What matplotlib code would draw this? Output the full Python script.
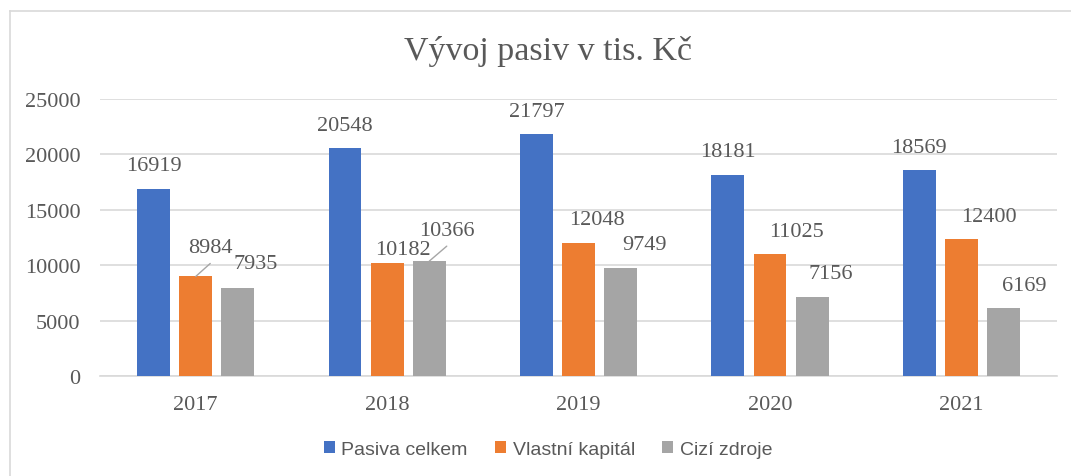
import matplotlib.pyplot as plt
import numpy as np
from matplotlib.lines import Line2D

# Data
roky = ["2017", "2018", "2019", "2020", "2021"]
pasiva_celkem = [16919, 20548, 21797, 18181, 18569]
vlastni_kapital = [8984, 10182, 12048, 11025, 12400]
cizi_zdroje = [7935, 10366, 9749, 7156, 6169]

serie = [
    ("Pasiva celkem", pasiva_celkem, "#4472C4"),
    ("Vlastní kapitál", vlastni_kapital, "#ED7D31"),
    ("Cizí zdroje", cizi_zdroje, "#A5A5A5"),
]

# posuny popisku v px od vrcholu sloupce (dx, dy), jako v Excelu rucne posunute
posun_dx = [[0, 0, 0, 0, 0], [14.5, 15.5, 18, 27, 27.5], [17.5, 17.5, 24, 18.5, 20.5]]
posun_dy = [[23, 23, 23, 23, 23], [29, 14, 23, 22, 22], [25, 31, 23, 23, 22]]
s_carou = {(1, 0), (2, 1)}

text_col = "#595959"
grid_col = "#D9D9D9"
serif = ["Liberation Serif", "DejaVu Serif"]

fig = plt.figure(figsize=(10.71, 4.77), dpi=100)
ax = fig.add_axes([0.0934, 0.2096, 0.8936, 0.5808])

x = np.arange(len(roky))
sirka = 0.172
posuny = [-0.22, 0.0, 0.22]

for i, (nazev, hodnoty, barva) in enumerate(serie):
    ax.bar(x + posuny[i], hodnoty, width=sirka, color=barva, label=nazev, zorder=3)
    for j, h in enumerate(hodnoty):
        dx, dy = posun_dx[i][j], posun_dy[i][j]
        ax.annotate(str(h), xy=(x[j] + posuny[i], h), xytext=(dx, dy),
                    textcoords="offset pixels", ha="center", va="center",
                    fontsize=16, color=text_col, family=serif, zorder=4)
        if (i, j) in s_carou:
            ax.annotate("", xy=(x[j] + posuny[i], h), xytext=(dx, dy - 16),
                        textcoords="offset pixels",
                        arrowprops=dict(arrowstyle="-", color="#A6A6A6", lw=1.0,
                                        shrinkA=0, shrinkB=0))

ax.set_xlim(-0.5, 4.5)
ax.set_ylim(0, 25000)
ax.set_yticks(np.arange(0, 25001, 5000))
ax.set_xticks(x)
ax.set_xticklabels(roky)
ax.grid(axis="y", color=grid_col, lw=1.2, zorder=0)
for s in ["top", "right", "left"]:
    ax.spines[s].set_visible(False)
ax.spines["bottom"].set_color(grid_col)
ax.spines["bottom"].set_linewidth(1.2)
ax.tick_params(length=0, labelsize=16, labelcolor=text_col)
ax.tick_params(axis="y", pad=14)
ax.tick_params(axis="x", pad=14)
for t in ax.get_xticklabels() + ax.get_yticklabels():
    t.set_family(serif)

fig.text(548 / 1071, 0.893, "Vývoj pasiv v tis. Kč", ha="center", va="center",
         fontsize=24.5, color=text_col, family=serif)

fig.legend(loc="center", bbox_to_anchor=(548 / 1071, 0.056), ncol=3, frameon=False,
           prop={"family": ["Liberation Sans", "DejaVu Sans"], "size": 14},
           labelcolor=text_col, handlelength=0.55, handleheight=0.55,
           handletextpad=0.35, columnspacing=1.4)

# ramecek grafu (viditelny jen horni a levy okraj)
fig.lines.append(Line2D([10 / 1071, 1], [1 - 12 / 477, 1 - 12 / 477],
                        transform=fig.transFigure, color=grid_col, lw=1.2))
fig.lines.append(Line2D([10 / 1071, 10 / 1071], [0, 1 - 12 / 477],
                        transform=fig.transFigure, color=grid_col, lw=1.2))

fig.savefig("out.png", dpi=100)
